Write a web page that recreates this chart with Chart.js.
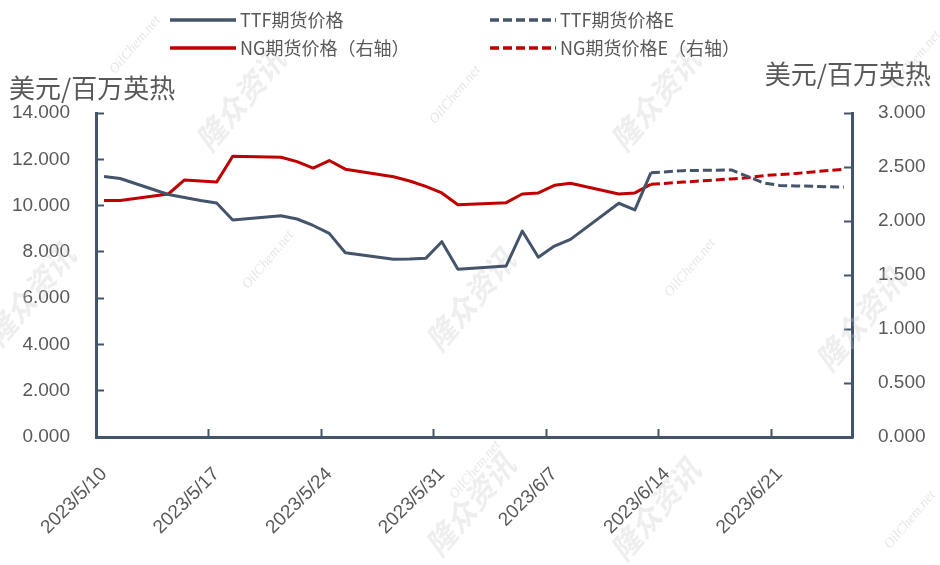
<!DOCTYPE html>
<html>
<head>
<meta charset="utf-8">
<script src="https://cdn.jsdelivr.net/npm/chart.js@4.4.0/dist/chart.umd.min.js"></script>
<style>
  html, body { margin: 0; padding: 0; background: #ffffff; }
  #wrap { width: 940px; height: 565px; }
</style>
</head>
<body>
<div id="wrap"><canvas id="gaschart" width="940" height="565"></canvas></div>
<script>
// data (dates as in the source sheet)
const ttfDates = ["2023-05-10","2023-05-11","2023-05-14","2023-05-15","2023-05-16","2023-05-17","2023-05-18",
    "2023-05-21","2023-05-22","2023-05-23","2023-05-24","2023-05-25","2023-05-28","2023-05-29","2023-05-30",
    "2023-05-31","2023-06-01","2023-06-04","2023-06-05","2023-06-06","2023-06-07","2023-06-08","2023-06-11",
    "2023-06-12","2023-06-13"];
const ttfPrices = [11.26, 11.17, 10.48, 10.35, 10.22, 10.11, 9.38,
    9.56, 9.42, 9.14, 8.80, 7.96, 7.68, 7.69, 7.72,
    8.44, 7.25, 7.39, 8.90, 7.77, 8.25, 8.54, 10.10,
    9.81, 11.42];
const ngPrices = [2.19, 2.19, 2.25, 2.38, 2.37, 2.36, 2.60,
    2.59, 2.55, 2.49, 2.56, 2.48, 2.41, 2.37, 2.32,
    2.26, 2.15, 2.17, 2.25, 2.26, 2.33, 2.35, 2.25,
    2.26, 2.34];

const fcDates = ["2023-06-13","2023-06-14","2023-06-15","2023-06-18","2023-06-19","2023-06-20","2023-06-21","2023-06-22","2023-06-25"];
const ttfForecast = [11.42, 11.46, 11.51, 11.54, 11.26, 10.98, 10.87, 10.85, 10.80];
const ngForecast = [2.34, 2.35, 2.36, 2.39, 2.40, 2.42, 2.43, 2.44, 2.48];

const seriesNames = ["TTF期货价格", "TTF期货价格E", "NG期货价格（右轴）", "NG期货价格E（右轴）"];
const axisTitle = "美元/百万英热";

const startDay = Date.UTC(2023, 4, 10);
const dayMs = 86400000;
const navy = "#44546A";
const red = "#C00000";
const grey = "#595959";

// each date sits in the middle of its day slot, like Excel's date axis
function toPoints(dates, vals) {
    return dates.map(function(d, i) {
        const p = d.split("-");
        const day = (Date.UTC(+p[0], +p[1] - 1, +p[2]) - startDay) / dayMs;
        return { x: day + 0.5, y: vals[i] };
    });
}

function dayLabel(v) {
    const d = new Date(startDay + v * dayMs);
    return d.getUTCFullYear() + "/" + (d.getUTCMonth() + 1) + "/" + d.getUTCDate();
}

const lineBase = { borderWidth: 3, pointRadius: 0, tension: 0, borderJoinStyle: "round", fill: false };

// faint watermarks, legend and the two unit captions
const extras = {
    id: "extras",
    beforeDatasetsDraw(chart) {
        const ctx = chart.ctx;
        ctx.save();
        const marks = [
            ["隆众资讯", 240, 100], ["隆众资讯", 655, 100], ["隆众资讯", 470, 300],
            ["隆众资讯", 860, 320], ["隆众资讯", 30, 295], ["隆众资讯", 470, 505], ["隆众资讯", 655, 510]
        ];
        marks.forEach(function(m) {
            ctx.save();
            ctx.translate(m[1], m[2]);
            ctx.rotate(-50 * Math.PI / 180);
            ctx.font = "bold italic 30px 'Noto Sans CJK SC'";
            ctx.fillStyle = "rgba(200,200,200,0.3)";
            ctx.textAlign = "center";
            ctx.textBaseline = "middle";
            ctx.fillText(m[0], 0, 0);
            ctx.restore();
        });
        const nets = [[135, 45], [268, 260], [690, 268], [915, 60], [910, 520], [475, 470], [455, 95]];
        nets.forEach(function(n) {
            ctx.save();
            ctx.translate(n[0], n[1]);
            ctx.rotate(-50 * Math.PI / 180);
            ctx.font = "italic 14px 'Liberation Serif'";
            ctx.fillStyle = "rgba(200,200,200,0.45)";
            ctx.textAlign = "center";
            ctx.textBaseline = "middle";
            ctx.fillText("OilChem.net", 0, 0);
            ctx.restore();
        });
        ctx.restore();
    },
    afterDraw(chart) {
        const ctx = chart.ctx;
        ctx.save();
        const spots = [[170, 20], [490, 20], [170, 48], [490, 48]];
        chart.data.datasets.forEach(function(ds, i) {
            const s = spots[i];
            ctx.beginPath();
            ctx.setLineDash(ds.borderDash || []);
            ctx.lineWidth = 3.5;
            ctx.strokeStyle = ds.borderColor;
            ctx.moveTo(s[0], s[1]);
            ctx.lineTo(s[0] + 66, s[1]);
            ctx.stroke();
            ctx.setLineDash([]);
            ctx.font = "18px 'Noto Sans CJK SC'";
            ctx.fillStyle = grey;
            ctx.textAlign = "left";
            ctx.textBaseline = "middle";
            ctx.fillText(ds.label, s[0] + 70, s[1]);
        });
        ctx.font = "26px 'Noto Sans CJK SC'";
        ctx.fillStyle = grey;
        ctx.textBaseline = "middle";
        ctx.textAlign = "left";
        ctx.fillText(axisTitle, 9, 88);
        ctx.textAlign = "right";
        ctx.fillText(axisTitle, 931, 74);
        ctx.restore();
    }
};

const tickFont = { family: "'Liberation Sans'", size: 19 };

new Chart(document.getElementById("gaschart"), {
    type: "line",
    data: {
        datasets: [
            Object.assign({ label: seriesNames[0], data: toPoints(ttfDates, ttfPrices), borderColor: navy, yAxisID: "y" }, lineBase),
            Object.assign({ label: seriesNames[1], data: toPoints(fcDates, ttfForecast), borderColor: navy, borderDash: [9, 4], yAxisID: "y" }, lineBase),
            Object.assign({ label: seriesNames[2], data: toPoints(ttfDates, ngPrices), borderColor: red, yAxisID: "y1" }, lineBase),
            Object.assign({ label: seriesNames[3], data: toPoints(fcDates, ngForecast), borderColor: red, borderDash: [9, 4], yAxisID: "y1" }, lineBase)
        ]
    },
    options: {
        responsive: false,
        animation: false,
        devicePixelRatio: 1,
        layout: { padding: { top: 113, left: 0, right: 0, bottom: 0 } },
        plugins: {
            legend: { display: false },
            tooltip: { enabled: false }
        },
        scales: {
            x: {
                type: "linear",
                min: 0,
                max: 47,
                afterFit: function(scale) { scale.height = 128; },
                border: { color: navy, width: 3 },
                grid: { drawOnChartArea: false, tickLength: -8, tickWidth: 2, color: navy },
                ticks: {
                    stepSize: 7,
                    includeBounds: false,
                    autoSkip: false,
                    minRotation: 45,
                    maxRotation: 45,
                    padding: 34,
                    labelOffset: 8,
                    color: grey,
                    font: tickFont,
                    callback: function(v) { return dayLabel(v); }
                }
            },
            y: {
                position: "left",
                min: 0,
                max: 14,
                afterFit: function(scale) { scale.width = 96; },
                border: { color: navy, width: 3 },
                grid: { drawOnChartArea: false, tickLength: -8, tickWidth: 2, color: navy },
                ticks: {
                    stepSize: 2,
                    padding: 34,
                    color: grey,
                    font: tickFont,
                    callback: function(v) { return v.toFixed(3); }
                }
            },
            y1: {
                position: "right",
                min: 0,
                max: 3,
                afterFit: function(scale) { scale.width = 88; },
                border: { color: navy, width: 3 },
                grid: { drawOnChartArea: false, tickLength: -8, tickWidth: 2, color: navy },
                ticks: {
                    stepSize: 0.5,
                    padding: 34,
                    color: grey,
                    font: tickFont,
                    callback: function(v) { return v.toFixed(3); }
                }
            }
        }
    },
    plugins: [extras]
});
</script>
</body>
</html>
